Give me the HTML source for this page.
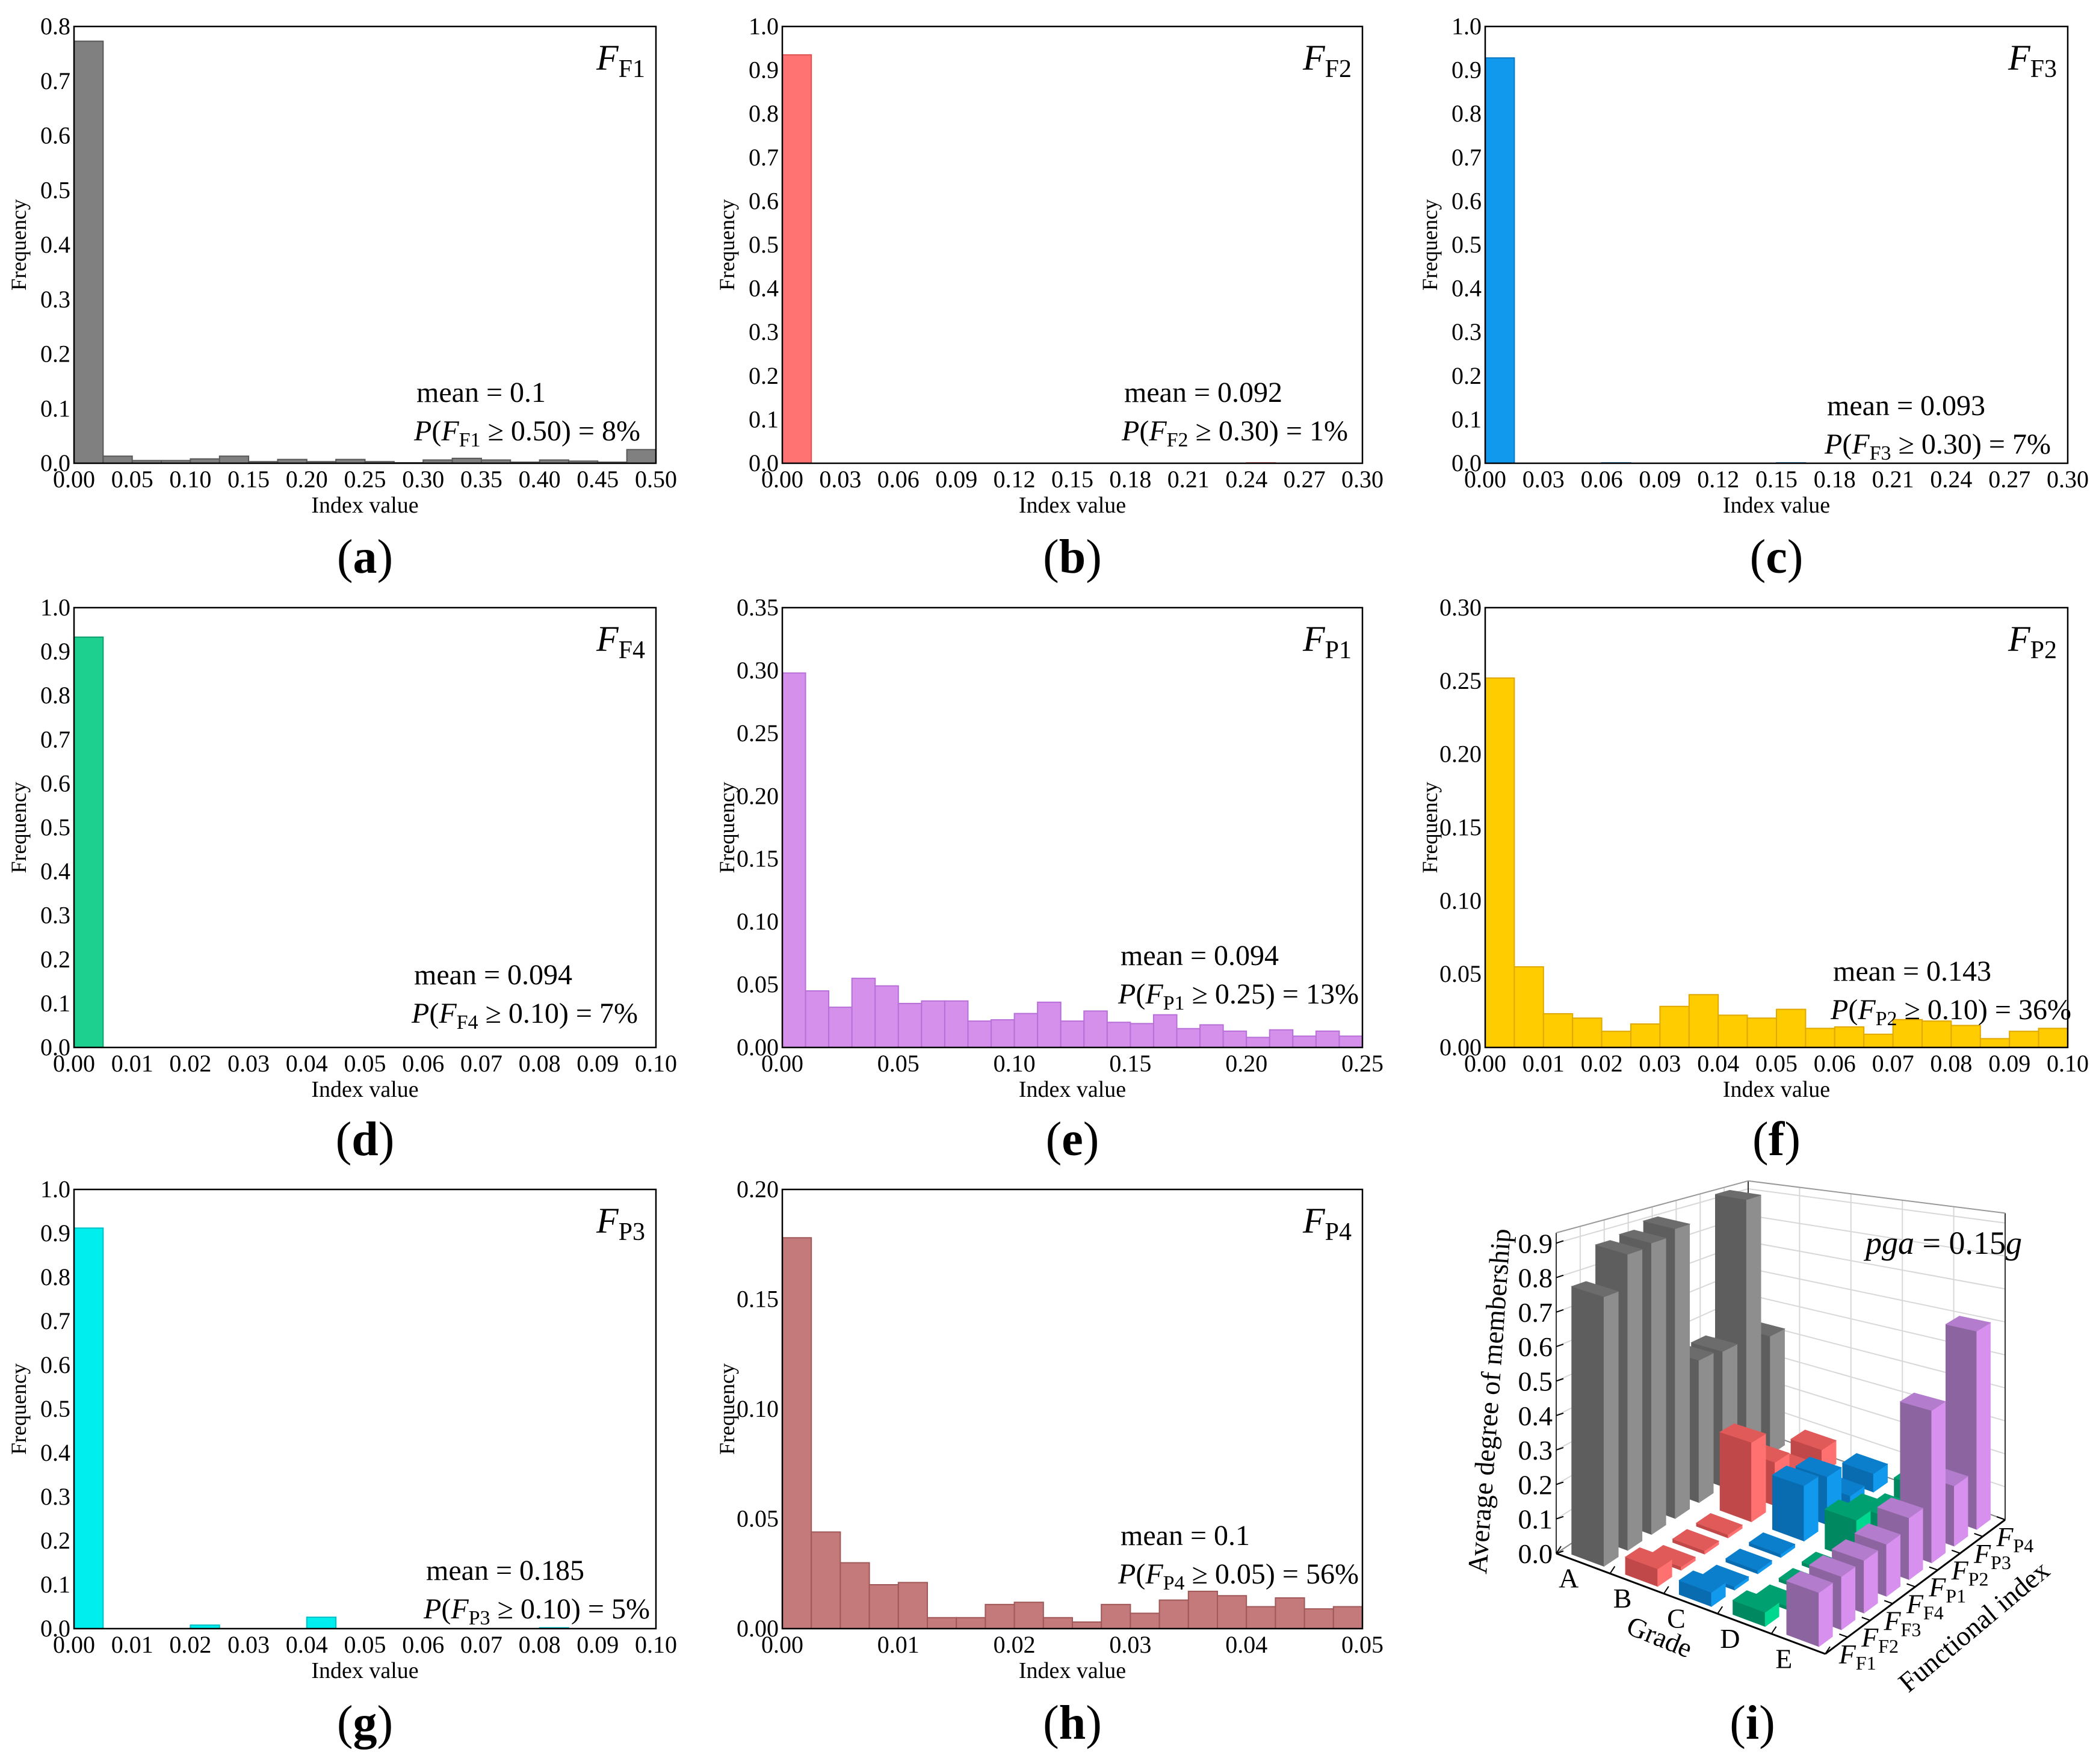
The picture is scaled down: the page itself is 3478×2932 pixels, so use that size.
<!DOCTYPE html>
<html><head><meta charset="utf-8"><style>
html,body{margin:0;padding:0;background:#fff;}
svg{display:block;font-family:"Liberation Serif",serif;}
</style></head><body>
<svg id="fig" width="3478" height="2932" viewBox="0 0 3478 2932" xmlns="http://www.w3.org/2000/svg" font-family="Liberation Serif, serif"></svg>
<script>
const NS="http://www.w3.org/2000/svg";
const fig=document.getElementById('fig');

// ---- histogram data ----
const aValues=[0.773,0.013,0.005,0.005,0.008,0.013,0.003,0.007,0.003,0.007,0.003,0.001,0.006,0.009,0.006,0.002,0.006,0.004,0.002,0.025];
const bValues=[0.935,0,0,0,0,0,0,0,0,0,0,0,0,0,0,0,0.001,0,0,0];
const cValues=[0.928,0,0,0,0.001,0,0,0,0,0,0.001,0,0,0,0,0,0,0,0,0];
const dValues=[0.933,0,0,0,0,0,0,0,0,0,0,0,0,0,0,0,0,0,0,0];
const eValues=[0.298,0.045,0.032,0.055,0.049,0.035,0.037,0.037,0.021,0.022,0.027,0.036,0.021,0.029,0.020,0.019,0.026,0.015,0.018,0.013,0.008,0.014,0.009,0.013,0.009];
const fValues=[0.252,0.055,0.023,0.020,0.011,0.016,0.028,0.036,0.022,0.020,0.026,0.013,0.014,0.009,0.019,0.018,0.015,0.006,0.011,0.013];
const gValues=[0.912,0,0,0,0.008,0,0,0,0.026,0,0,0,0,0,0,0,0.002,0,0,0];
const hValues=[0.178,0.044,0.030,0.020,0.021,0.005,0.005,0.011,0.012,0.005,0.003,0.011,0.007,0.013,0.017,0.015,0.010,0.014,0.009,0.010];
const aXTicks=["0.00","0.05","0.10","0.15","0.20","0.25","0.30","0.35","0.40","0.45","0.50"];
const bcXTicks=["0.00","0.03","0.06","0.09","0.12","0.15","0.18","0.21","0.24","0.27","0.30"];
const tenthXTicks=["0.00","0.01","0.02","0.03","0.04","0.05","0.06","0.07","0.08","0.09","0.10"];
const eXTicks=["0.00","0.05","0.10","0.15","0.20","0.25"];
const hXTicks=["0.00","0.01","0.02","0.03","0.04","0.05"];
const aYTicks=["0.0","0.1","0.2","0.3","0.4","0.5","0.6","0.7","0.8"];
const oneYTicks=["0.0","0.1","0.2","0.3","0.4","0.5","0.6","0.7","0.8","0.9","1.0"];
const eYTicks=["0.00","0.05","0.10","0.15","0.20","0.25","0.30","0.35"];
const fYTicks=["0.00","0.05","0.10","0.15","0.20","0.25","0.30"];
const hYTicks=["0.00","0.05","0.10","0.15","0.20"];

// ---- 3D chart data (rows = grades, columns = functional indices) ----
const grades=["A","B","C","D","E"];
const indexSubs=["F1","F2","F3","F4","P1","P2","P3","P4"];
const gradeA=[0.78,0.88,0.89,0.91,0.46,0.45,0.93,0.42];
const gradeB=[0.05,0.01,0.01,0.01,0.25,0.14,0.06,0.08];
const gradeC=[0.04,0.01,0.01,0.01,0.17,0.15,0.04,0.06];
const gradeD=[0.04,0.01,0.01,0.01,0.12,0.09,0.04,0.07];
const gradeE=[0.15,0.15,0.15,0.15,0.18,0.45,0.18,0.60];
const zTicks=["0.0","0.1","0.2","0.3","0.4","0.5","0.6","0.7","0.8","0.9"];

function el(tag,attrs,parent){const e=document.createElementNS(NS,tag);for(const k in attrs)e.setAttribute(k,attrs[k]);(parent||fig).appendChild(e);return e;}
function txt(parent,x,y,s,size,anchor,extra){const t=el('text',Object.assign({x:x,y:y,'font-size':size,'text-anchor':anchor||'start',fill:'#000'},extra||{}),parent);t.textContent=s;return t;}

function hist(cfg){
  const g=el('g',{});
  
  
  const [x0,x1,y0,y1]=cfg.box;
  const xs=v=>x0+(v-cfg.xmin)/(cfg.xmax-cfg.xmin)*(x1-x0);
  const ys=v=>y1-(v/cfg.ymax)*(y1-y0);
  const n=cfg.values.length, bw=(cfg.xmax-cfg.xmin)/n;
  cfg.values.forEach((v,i)=>{
    if(v<=0)return;
    const r=el('rect',{x:xs(cfg.xmin+i*bw),y:ys(v),width:xs(cfg.xmin+(i+1)*bw)-xs(cfg.xmin+i*bw),height:y1-ys(v),fill:cfg.color,stroke:cfg.stroke,'stroke-width':2},g);
    
    
  });
  const fr=el('rect',{x:x0,y:y0,width:x1-x0,height:y1-y0,fill:'none',stroke:'#000','stroke-width':2.5},g);
  
  
  const yt=el('g',{},g);
  cfg.yTicks.forEach(s=>{txt(yt,x0-6,ys(parseFloat(s))+13,s,40,'end');});
  const xt=el('g',{},g);
  cfg.xTicks.forEach(s=>{txt(xt,xs(parseFloat(s)),y1+40,s,40,'middle');});
  const xl=txt(g,(x0+x1)/2,y1+82,'Index value',38,'middle');
  
  const yl=txt(g,0,0,'Frequency',36,'middle',{transform:`translate(${x0-80},${(y0+y1)/2}) rotate(-90)`});
  
  const tt=el('text',{x:x1-18,y:y0+72,'font-size':60,'text-anchor':'end'},g);
  
  tt.innerHTML=`<tspan font-style="italic">F</tspan><tspan font-size="42" dy="12">${cfg.sub}</tspan>`;
  const m=txt(g,cfg.ann[0],cfg.ann[1],'mean = '+cfg.mean,48,'start');
  
  const p=el('text',{x:cfg.ann[0]-4,y:cfg.ann[1]+64,'font-size':48},g);
  
  p.innerHTML=`<tspan font-style="italic">P</tspan>(<tspan font-style="italic">F</tspan><tspan font-size="34" dy="10">${cfg.sub}</tspan><tspan dy="-10"> ≥ ${cfg.thr}) = ${cfg.pct}</tspan>`;
  const lb=el('text',{x:(x0+x1)/2,y:cfg.labelY,'font-size':80,'text-anchor':'middle'},g);
  
  lb.innerHTML=`(<tspan font-weight="bold">${cfg.label}</tspan>)`;
}

const R1=[44,770],R2=[1010,1741],R3=[1977,2707];
const C1=[123,1090],C2=[1300,2264],C3=[2468,3436];
hist({name:'panel-a-hist-ff1',box:[C1[0],C1[1],R1[0],R1[1]],xmin:0,xmax:0.5,ymax:0.8,values:aValues,xTicks:aXTicks,yTicks:aYTicks,color:'#808080',stroke:'#585858',sub:'F1',mean:'0.1',thr:'0.50',pct:'8%',ann:[692,668],label:'a',labelY:952});
hist({name:'panel-b-hist-ff2',box:[C2[0],C2[1],R1[0],R1[1]],xmin:0,xmax:0.3,ymax:1.0,values:bValues,xTicks:bcXTicks,yTicks:oneYTicks,color:'#ff7373',stroke:'#e05050',sub:'F2',mean:'0.092',thr:'0.30',pct:'1%',ann:[1868,668],label:'b',labelY:952});
hist({name:'panel-c-hist-ff3',box:[C3[0],C3[1],R1[0],R1[1]],xmin:0,xmax:0.3,ymax:1.0,values:cValues,xTicks:bcXTicks,yTicks:oneYTicks,color:'#1199ee',stroke:'#0a78c0',sub:'F3',mean:'0.093',thr:'0.30',pct:'7%',ann:[3036,690],label:'c',labelY:952});
hist({name:'panel-d-hist-ff4',box:[C1[0],C1[1],R2[0],R2[1]],xmin:0,xmax:0.1,ymax:1.0,values:dValues,xTicks:tenthXTicks,yTicks:oneYTicks,color:'#1dd08f',stroke:'#10a070',sub:'F4',mean:'0.094',thr:'0.10',pct:'7%',ann:[688,1636],label:'d',labelY:1920});
hist({name:'panel-e-hist-fp1',box:[C2[0],C2[1],R2[0],R2[1]],xmin:0,xmax:0.25,ymax:0.35,values:eValues,xTicks:eXTicks,yTicks:eYTicks,color:'#d490ea',stroke:'#b870d8',sub:'P1',mean:'0.094',thr:'0.25',pct:'13%',ann:[1862,1604],label:'e',labelY:1920});
hist({name:'panel-f-hist-fp2',box:[C3[0],C3[1],R2[0],R2[1]],xmin:0,xmax:0.1,ymax:0.30,values:fValues,xTicks:tenthXTicks,yTicks:fYTicks,color:'#ffcc00',stroke:'#e0a800',sub:'P2',mean:'0.143',thr:'0.10',pct:'36%',ann:[3046,1630],label:'f',labelY:1920});
hist({name:'panel-g-hist-fp3',box:[C1[0],C1[1],R3[0],R3[1]],xmin:0,xmax:0.1,ymax:1.0,values:gValues,xTicks:tenthXTicks,yTicks:oneYTicks,color:'#00eeee',stroke:'#00c0c8',sub:'P3',mean:'0.185',thr:'0.10',pct:'5%',ann:[708,2626],label:'g',labelY:2890});
hist({name:'panel-h-hist-fp4',box:[C2[0],C2[1],R3[0],R3[1]],xmin:0,xmax:0.05,ymax:0.20,values:hValues,xTicks:hXTicks,yTicks:hYTicks,color:'#c47a7a',stroke:'#a05858',sub:'P4',mean:'0.1',thr:'0.05',pct:'56%',ann:[1862,2568],label:'h',labelY:2890});

// ---- panel i : 3D bars ----
(function(){
  const g=el('g',{});
  
  
  const L=[2586,2582],F=[3033,2749],Rr=[3332,2526],B=[2905,2372];
  const sL=573,sF=600,sR=548,sB=440;
  const NG=grades.length, NI=indexSubs.length;
  function P(gg,ii,z){const u=gg/NG,v=ii/NI;
    const w1=(1-u)*(1-v),w2=u*(1-v),w3=u*v,w4=(1-u)*v;
    const x=L[0]*w1+F[0]*w2+Rr[0]*w3+B[0]*w4;
    const y=L[1]*w1+F[1]*w2+Rr[1]*w3+B[1]*w4;
    const s=sL*w1+sF*w2+sR*w3+sB*w4;
    return [x,y-z*s];}
  const pts=a=>a.map(p=>p[0].toFixed(1)+','+p[1].toFixed(1)).join(' ');
  const top=0.93;
  for(let k=1;k<=9;k++){const z=k/10;
    el('line',{x1:P(0,0,z)[0],y1:P(0,0,z)[1],x2:P(0,NI,z)[0],y2:P(0,NI,z)[1],stroke:'#d8d8d8','stroke-width':2},g);
    el('line',{x1:P(0,NI,z)[0],y1:P(0,NI,z)[1],x2:P(NG,NI,z)[0],y2:P(NG,NI,z)[1],stroke:'#d8d8d8','stroke-width':2},g);}
  for(let i=1;i<NI;i++){el('line',{x1:P(0,i,0)[0],y1:P(0,i,0)[1],x2:P(0,i,top)[0],y2:P(0,i,top)[1],stroke:'#d8d8d8','stroke-width':2},g);}
  for(let k=1;k<NG;k++){el('line',{x1:P(k,NI,0)[0],y1:P(k,NI,0)[1],x2:P(k,NI,top)[0],y2:P(k,NI,top)[1],stroke:'#d8d8d8','stroke-width':2},g);}
  [[0,0],[0,NI],[NG,NI]].forEach(c=>{el('line',{x1:P(c[0],c[1],0)[0],y1:P(c[0],c[1],0)[1],x2:P(c[0],c[1],top)[0],y2:P(c[0],c[1],top)[1],stroke:'#333','stroke-width':2},g);});
  el('line',{x1:P(0,0,top)[0],y1:P(0,0,top)[1],x2:P(0,NI,top)[0],y2:P(0,NI,top)[1],stroke:'#999','stroke-width':2},g);
  el('line',{x1:P(0,NI,top)[0],y1:P(0,NI,top)[1],x2:P(NG,NI,top)[0],y2:P(NG,NI,top)[1],stroke:'#999','stroke-width':2},g);
  el('line',{x1:P(0,NI,0)[0],y1:P(0,NI,0)[1],x2:P(NG,NI,0)[0],y2:P(NG,NI,0)[1],stroke:'#888','stroke-width':2},g);
  el('line',{x1:P(0,0,0)[0],y1:P(0,0,0)[1],x2:P(0,NI,0)[0],y2:P(0,NI,0)[1],stroke:'#888','stroke-width':2},g);
  // front axes
  el('line',{x1:L[0],y1:L[1],x2:F[0],y2:F[1],stroke:'#000','stroke-width':3},g);
  el('line',{x1:F[0],y1:F[1],x2:Rr[0],y2:Rr[1],stroke:'#000','stroke-width':3},g);
  for(let k=0;k<=NG;k++){const p=P(k,0,0);el('line',{x1:p[0],y1:p[1],x2:p[0]+8,y2:p[1]-12,stroke:'#000','stroke-width':2},g);}
  for(let k=0;k<=NI;k++){const p=P(NG,k,0);el('line',{x1:p[0],y1:p[1],x2:p[0]-14,y2:p[1]-5,stroke:'#000','stroke-width':2},g);}
  const ax=el('g',{},g);
  zTicks.forEach(s=>{const z=parseFloat(s);const p=P(0,0,z);
    el('line',{x1:p[0],y1:p[1],x2:p[0]+12,y2:p[1]-4,stroke:'#000','stroke-width':2},ax);
    txt(ax,p[0]-6,p[1]+16,s,46,'end');});
  const zt=txt(g,0,0,'Average degree of membership',46,'middle',{transform:`translate(2490,2330) rotate(-86)`});
  
  // grade labels
  grades.forEach((s,k)=>{const p=P(k+0.5,0,0);const t=txt(g,p[0]-24,p[1]+40,s,46,'middle');
    });
  const gt=txt(g,0,0,'Grade',46,'middle',{transform:'translate(2752,2735) rotate(22)'});
  
  indexSubs.forEach((s,k)=>{const p=P(NG,k+0.5,0);const t=el('text',{x:p[0]+4,y:p[1]+30,'font-size':46},g);
    
    t.innerHTML=`<tspan font-style="italic">F</tspan><tspan font-size="32" dy="10">${s}</tspan>`;});
  const ft=txt(g,0,0,'Functional index',46,'middle',{transform:'translate(3290,2715) rotate(-40)'});
  
  // bars
  const rows=[gradeA,gradeB,gradeC,gradeD,gradeE];
  const cols=[['#6c6c6c','#5e5e5e','#8e8e8e'],['#e05a5a','#c04848','#ff7070'],['#0c7fcc','#0a6cb0','#1199ee'],['#00a070','#008860','#00d890'],['#b47ccc','#8c64a0','#d890ee']];
  const list=[];
  rows.forEach((r,gi)=>r.forEach((v,ii)=>list.push({gi,ii,v,key:gi/NG+(NI-ii)/NI})));
  list.sort((a,b)=>a.key-b.key);
  list.forEach(b=>{
    const g0=b.gi+0.2,g1=b.gi+0.8,i0=b.ii+0.2,i1=b.ii+0.8,z=b.v;const c=cols[b.gi];
    const bg=el('g',{},g);
    
    
    el('polygon',{points:pts([P(g0,i0,0),P(g1,i0,0),P(g1,i0,z),P(g0,i0,z)]),fill:c[1],stroke:c[1],'stroke-width':1},bg);
    el('polygon',{points:pts([P(g1,i0,0),P(g1,i1,0),P(g1,i1,z),P(g1,i0,z)]),fill:c[2],stroke:c[2],'stroke-width':1},bg);
    el('polygon',{points:pts([P(g0,i0,z),P(g1,i0,z),P(g1,i1,z),P(g0,i1,z)]),fill:c[0],stroke:c[0],'stroke-width':1},bg);
  });
  const pg=el('text',{x:3100,y:2084,'font-size':54},g);
  
  pg.innerHTML='<tspan font-style="italic">pga</tspan> = 0.15<tspan font-style="italic">g</tspan>';
  const lb=el('text',{x:2912,y:2890,'font-size':80,'text-anchor':'middle'},g);
  
  lb.innerHTML='(<tspan font-weight="bold">i</tspan>)';
})();
</script>
</body></html>
